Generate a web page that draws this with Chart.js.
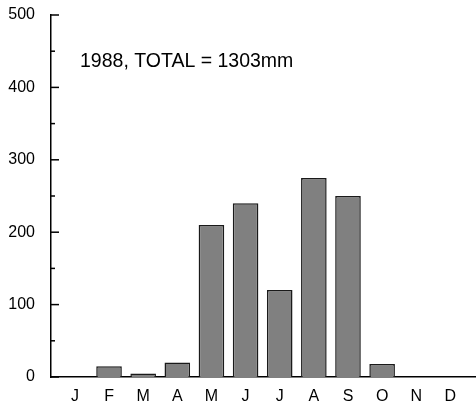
<!DOCTYPE html>
<html>
<head>
<meta charset="utf-8">
<script src="https://cdn.jsdelivr.net/npm/chart.js@4/dist/chart.umd.min.js"></script>
<style>
  html, body { margin: 0; padding: 0; background: #fff; }
  #wrap { width: 476px; height: 403px; }
</style>
</head>
<body>
<div id="wrap"><canvas id="rainChart" width="476" height="403"></canvas></div>
<script>
// monthly rainfall, 1988 (mm)
const months = ['J', 'F', 'M', 'A', 'M', 'J', 'J', 'A', 'S', 'O', 'N', 'D'];
const rainfall = [0, 15, 5, 20, 210, 240, 120, 275, 250, 18, 0, 0];
const yTicks = [0, 100, 200, 300, 400, 500];
const minorTicks = [50, 150, 250, 350, 450];
const caption = '1988, TOTAL = 1303mm';

// ticks drawn inward from the y axis, plus the caption
const axisExtras = {
    id: 'axisExtras',
    afterDraw(chart) {
        const c = chart.ctx;
        const y = chart.scales.y;
        const left = chart.chartArea.left;
        c.save();
        c.strokeStyle = '#000';
        c.lineWidth = 1.5;
        yTicks.forEach(v => {
            const py = y.getPixelForValue(v);
            c.beginPath();
            c.moveTo(left, py);
            c.lineTo(left + 8, py);
            c.stroke();
        });
        minorTicks.forEach(v => {
            const py = y.getPixelForValue(v);
            c.beginPath();
            c.moveTo(left, py);
            c.lineTo(left + 4, py);
            c.stroke();
        });
        c.fillStyle = '#000';
        c.font = '19.5px "Liberation Sans", Arial, sans-serif';
        c.textBaseline = 'alphabetic';
        c.fillText(caption, 80, 67);
        c.restore();
    }
};

const ctx = document.getElementById('rainChart').getContext('2d');
new Chart(ctx, {
    type: 'bar',
    data: {
        datasets: [{
            data: rainfall.map((v, i) => ({ x: i + 1, y: v })),
            backgroundColor: '#808080',
            borderColor: '#1a1a1a',
            borderWidth: 1.5,
            borderSkipped: 'bottom',
            barPercentage: 0.75,
            categoryPercentage: 1
        }]
    },
    options: {
        responsive: false,
        animation: false,
        layout: { padding: { top: 15, right: 0, left: 0, bottom: 0 } },
        plugins: { legend: { display: false }, tooltip: { enabled: false } },
        scales: {
            x: {
                type: 'linear',
                offset: false,
                min: 0.3,
                max: 12.75,
                afterBuildTicks: s => { s.ticks = months.map((m, i) => ({ value: i + 1 })); },
                afterFit: s => { s.height = 26; s.paddingLeft = 0; s.paddingRight = 0; },
                grid: { display: false, drawTicks: false },
                border: { display: true, color: '#000', width: 1.5 },
                ticks: {
                    autoSkip: false,
                    maxRotation: 0,
                    padding: 10,
                    color: '#000',
                    font: { family: '"Liberation Sans", Arial, sans-serif', size: 16 },
                    callback: v => months[v - 1]
                }
            },
            y: {
                min: 0,
                max: 500,
                afterBuildTicks: s => { s.ticks = yTicks.map(v => ({ value: v })); },
                afterFit: s => { s.width = 51; s.paddingTop = 0; s.paddingBottom = 0; },
                grid: { display: false, drawTicks: false },
                border: { display: true, color: '#000', width: 1.5 },
                ticks: {
                    padding: 16,
                    color: '#000',
                    font: { family: '"Liberation Sans", Arial, sans-serif', size: 16 }
                }
            }
        }
    },
    plugins: [axisExtras]
});
</script>
</body>
</html>
